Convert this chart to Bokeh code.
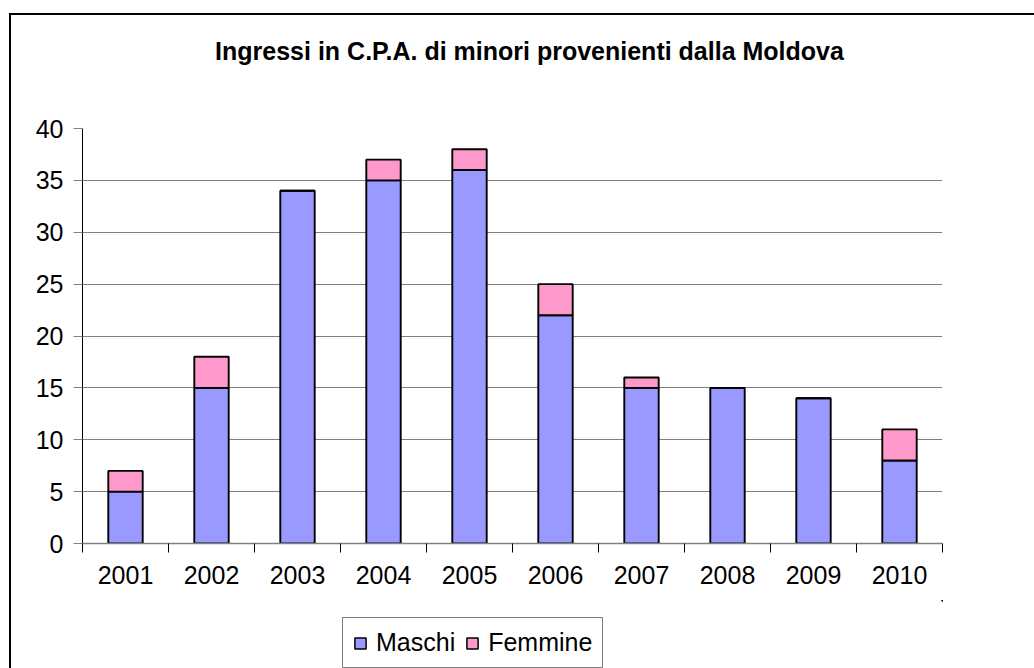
from bokeh.plotting import figure
from bokeh.models import FixedTicker, Legend, LegendItem, Label, Range1d
from bokeh.layouts import column
from bokeh.embed import file_html
from bokeh.resources import INLINE

years = ["2001", "2002", "2003", "2004", "2005", "2006", "2007", "2008", "2009", "2010"]
maschi = [5, 15, 34, 35, 36, 22, 15, 15, 14, 8]
femmine = [2, 3, 0, 2, 2, 3, 1, 0, 0, 3]
y_ticks = [0, 5, 10, 15, 20, 25, 30, 35, 40]
series = ["maschi", "femmine"]
labels = ["Maschi", "Femmine"]
colors = ["#9999FF", "#FF99CC"]
title_text = "Ingressi in C.P.A. di minori provenienti dalla Moldova"

xs = list(range(1, len(years) + 1))
data = dict(x=xs, maschi=maschi, femmine=femmine)

W = 1034
FONT = "Liberation Sans"
FL, FW = 82, 860


def bare(h, xr=(0, 1), yr=(0, 1)):
    f = figure(width=W, height=h, output_backend="svg", toolbar_location=None,
               min_border=0, min_border_left=FL, min_border_right=W - FL - FW,
               x_axis_type=None, y_axis_type=None,
               x_range=Range1d(*xr), y_range=Range1d(*yr))
    f.outline_line_color = None
    f.border_fill_color = None
    f.background_fill_color = None
    f.grid.grid_line_color = None
    return f


# ---- title strip (frame aligned with the main chart's frame)
pt = bare(100)
pt.add_layout(Label(x=529 - FL, y=50, x_units="screen", y_units="screen", text=title_text,
                    text_font=FONT, text_font_size="25px", text_font_style="bold",
                    text_align="center", text_baseline="middle", text_color="black"))

# ---- main chart
H = 500
FT, FH = 28, 415
p = figure(width=W, height=H, x_range=(0.5, len(years) + 0.5), y_range=(0, 40),
           output_backend="svg", toolbar_location=None,
           min_border_left=FL, min_border_right=W - FL - FW,
           min_border_top=FT, min_border_bottom=H - FT - FH)
p.outline_line_color = None
p.border_fill_color = None
p.background_fill_color = "white"

rs = p.vbar_stack(series, x="x", width=0.4, source=data,
                  color=colors, line_color="black", line_width=1.9)

p.xaxis.ticker = FixedTicker(ticks=xs, minor_ticks=[i + 0.5 for i in range(0, len(years) + 1)])
p.xaxis.major_label_overrides = {i: y for i, y in zip(xs, years)}
p.xaxis.major_tick_line_color = None
p.xaxis.major_tick_out = 0
p.xaxis.minor_tick_line_color = "black"
p.xaxis.minor_tick_out = 9
p.xaxis.minor_tick_in = 0
p.xaxis.axis_line_color = "#808080"
p.xaxis.axis_line_width = 1.5
p.xaxis.major_label_standoff = 13
p.yaxis.ticker = FixedTicker(ticks=y_ticks)
p.yaxis.minor_tick_line_color = None
p.yaxis.major_tick_out = 9
p.yaxis.major_tick_in = 0
p.yaxis.major_tick_line_color = "#808080"
p.yaxis.axis_line_color = "black"
p.yaxis.major_label_standoff = 10
for ax in (p.xaxis, p.yaxis):
    ax.major_label_text_font = FONT
    ax.major_label_text_font_size = "25px"
    ax.major_label_text_color = "black"

p.xgrid.grid_line_color = None
p.ygrid.grid_line_color = "#808080"
p.ygrid.grid_line_width = 1.2

# ---- legend strip: legend-only copies of the series, ranges keep them far off-canvas
pl = bare(68, xr=(-2000, -1000), yr=(-2000, -1000))
rl = pl.vbar_stack(series, x="x", width=0.4, source=data,
                   color=colors, line_color="black", line_width=1.5)
legend = Legend(items=[LegendItem(label=l, renderers=[r]) for l, r in zip(labels, rl)],
                orientation="horizontal", location=(342 - FL, 0),
                label_text_font=FONT, label_text_font_size="25px", label_text_color="black",
                glyph_width=14, glyph_height=14, label_standoff=9, spacing=10,
                padding=10, margin=0, border_line_color="black", border_line_width=1.2,
                label_height=25, background_fill_color="white")
pl.add_layout(legend, "center")

layout = column(pt, p, pl, spacing=0,
                styles={"background": "linear-gradient(#000,#000) 9px 13px / 2px 100% no-repeat, "
                                      "linear-gradient(#000,#000) 9px 13px / 100% 2px no-repeat"})

open("out.html", "w").write(file_html(layout, INLINE))
